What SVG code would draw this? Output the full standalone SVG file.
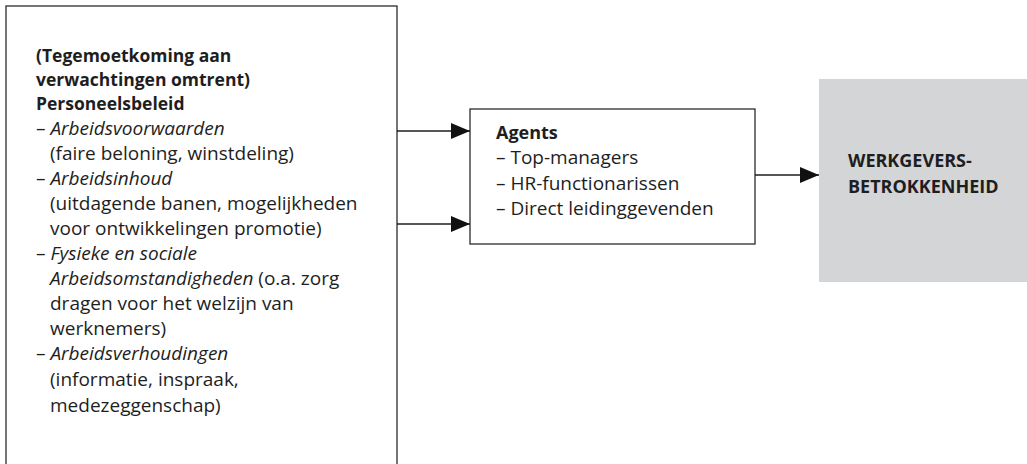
<svg xmlns="http://www.w3.org/2000/svg" width="1027" height="464" viewBox="0 0 1027 464">
<style>
.box{fill:#fff;stroke:#2b2b2b;stroke-width:1.3}
.t{font-family:"Open Sans","Noto Sans","Liberation Sans",sans-serif;font-size:19px;fill:#1e1e1e}
.b{font-weight:bold;font-size:17.5px}
.bb{font-weight:bold;font-size:18px}
.i{font-style:italic}
.conn{stroke:#1e1e1e;stroke-width:1.3;fill:none}
</style>
<defs>
<marker id="ah" markerWidth="20" markerHeight="16" refX="19" refY="8" orient="auto" markerUnits="userSpaceOnUse">
<path d="M0,0 L19,8 L0,16 Z" fill="#111"/>
</marker>
</defs>
<g id="policy">
<rect class="box" x="6" y="6" width="391" height="470"/>
<text class="t">
<tspan class="b" x="36" y="62">(Tegemoetkoming aan</tspan>
<tspan class="b" x="36" y="86">verwachtingen omtrent)</tspan>
<tspan class="b" x="36" y="110">Personeelsbeleid</tspan>
<tspan x="36" y="135">– <tspan class="i">Arbeidsvoorwaarden</tspan></tspan>
<tspan x="50" y="160">(faire beloning, winstdeling)</tspan>
<tspan x="36" y="185">– <tspan class="i">Arbeidsinhoud</tspan></tspan>
<tspan x="50" y="210">(uitdagende banen, mogelijkheden</tspan>
<tspan x="50" y="235">voor ontwikkelingen promotie)</tspan>
<tspan x="36" y="260">– <tspan class="i">Fysieke en sociale</tspan></tspan>
<tspan x="50" y="285"><tspan class="i">Arbeidsomstandigheden</tspan> (o.a. zorg</tspan>
<tspan x="50" y="310">dragen voor het welzijn van</tspan>
<tspan x="50" y="335">werknemers)</tspan>
<tspan x="36" y="360">– <tspan class="i">Arbeidsverhoudingen</tspan></tspan>
<tspan x="50" y="386">(informatie, inspraak,</tspan>
<tspan x="50" y="412">medezeggenschap)</tspan>
</text>
</g>
<g id="agents">
<rect class="box" x="470" y="109" width="285" height="135"/>
<text class="t">
<tspan class="bb" x="496" y="139">Agents</tspan>
<tspan x="496" y="164">– Top-managers</tspan>
<tspan x="496" y="190">– HR-functionarissen</tspan>
<tspan x="496" y="215">– Direct leidinggevenden</tspan>
</text>
</g>
<g id="commitment">
<rect x="819" y="79" width="208" height="203" fill="#d4d5d7"/>
<text class="t bb">
<tspan x="848" y="167">WERKGEVERS-</tspan>
<tspan x="848" y="193">BETROKKENHEID</tspan>
</text>
</g>
<g id="connectors">
<line class="conn" x1="397" y1="131" x2="470" y2="131" marker-end="url(#ah)"/>
<line class="conn" x1="397" y1="224" x2="470" y2="224" marker-end="url(#ah)"/>
<line class="conn" x1="755" y1="175" x2="819" y2="175" marker-end="url(#ah)"/>
</g>
</svg>
